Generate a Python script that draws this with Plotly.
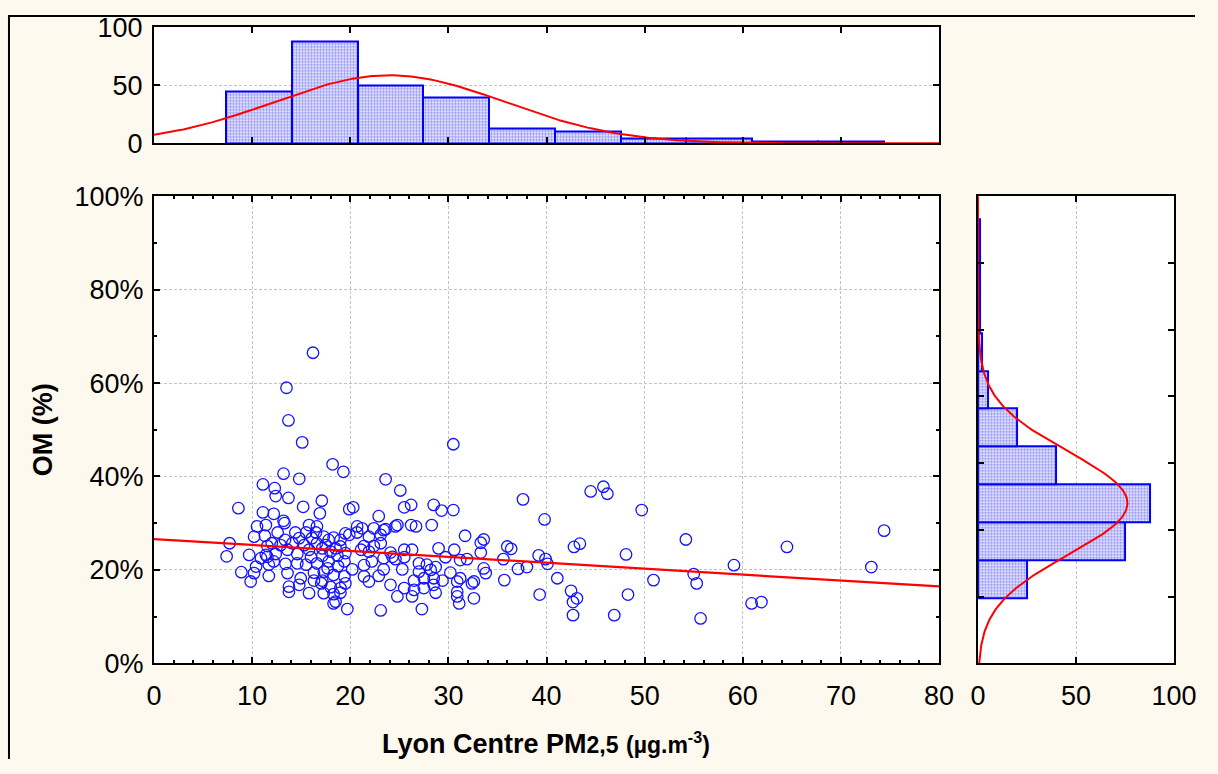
import numpy as np
import plotly.graph_objects as go

# ---------------- data ----------------
pm25 = [
    # dense core (left)
    12.4, 13.7, 17.1, 15.2, 8.6, 11.1, 12.2, 16.9, 19.9, 20.3,
    13.2, 13.3, 10.5, 11.4, 15.8, 16.6, 20.7, 12.6, 14.4, 15.5,
    16.5, 18.3, 19.0, 19.9, 19.5, 10.2, 11.3, 13.35, 12.0, 14.8,
    16.1, 17.3, 17.8, 11.55, 12.9, 14.1, 15.3, 16.6, 17.5, 19.0,
    13.6, 15.8, 17.15, 18.0, 18.5, 9.7, 11.4, 12.4, 14.6, 16.0,
    17.15, 18.7, 19.5, 10.9, 12.2, 13.4, 14.6, 16.6, 17.8, 19.4,
    10.4, 11.55, 11.7, 15.5, 17.7, 18.75, 20.2, 8.9, 10.2, 11.7,
    13.6, 16.3, 17.3, 18.3, 9.85, 14.95, 16.3, 17.15, 19.4, 13.75,
    14.8, 17.05, 18.0, 19.0, 19.5, 13.75, 15.8, 17.3, 18.3, 19.0,
    18.5, 19.7, 18.3,
    # dense core (centre)
    25.5, 26.2, 28.5, 29.3, 30.5, 22.9, 24.8, 24.6, 26.2, 26.7,
    28.3, 21.2, 22.4, 23.4, 23.6, 20.7, 21.9, 23.1, 31.7, 33.3,
    33.6, 21.4, 22.4, 23.1, 21.1, 21.9, 24.1, 25.5, 26.3, 29.0,
    30.6, 33.3, 22.2, 23.4, 24.3, 24.6, 25.5, 29.7, 31.2, 31.9,
    21.4, 23.4, 25.3, 27.0, 27.8, 28.2, 28.7, 27.0, 30.2, 33.6,
    33.8, 21.4, 21.9, 22.9, 26.5, 27.5, 28.5, 29.4, 31.2, 30.9,
    32.4, 32.6, 24.1, 25.5, 26.5, 27.5, 28.5, 28.7, 30.9, 30.9,
    32.6, 24.8, 26.3, 31.1, 23.1, 27.3,
    # high OM and far-left points
    16.2, 13.5, 13.7, 15.1, 18.2, 19.3, 13.2, 14.8, 11.1, 12.3,
    30.5, 23.6, 25.1, 7.7, 7.4,
    # right side
    37.6, 39.8, 44.5, 45.8, 46.2, 49.7, 54.2, 64.5, 74.4, 73.1,
    59.1, 55.0, 55.3, 55.7, 60.9, 61.9, 50.9, 48.1, 48.3, 46.9,
    42.8, 43.4, 41.1, 42.5, 43.1, 42.7, 42.7, 39.3, 39.2, 39.9,
    40.1, 38.0, 37.1, 36.0, 36.4, 35.6, 35.7,
]
om_pct = [
    35.8, 35.4, 34.8, 33.5, 33.2, 32.3, 32.0, 32.1, 33.0, 33.4,
    30.5, 30.0, 29.3, 29.6, 29.6, 29.3, 29.3, 28.0, 28.0, 28.0,
    28.0, 26.9, 26.4, 27.5, 27.8, 27.1, 27.3, 26.4, 25.7, 26.8,
    26.8, 27.1, 26.4, 25.1, 25.3, 25.7, 25.3, 25.7, 25.3, 25.0,
    24.3, 24.3, 24.6, 23.9, 24.6, 23.2, 23.2, 23.4, 23.4, 22.7,
    23.0, 23.0, 23.6, 22.5, 21.8, 21.3, 21.4, 21.4, 21.8, 21.8,
    20.7, 22.8, 21.1, 21.1, 20.3, 20.8, 20.1, 19.5, 19.3, 18.7,
    19.3, 19.4, 19.6, 18.9, 17.5, 18.2, 17.7, 17.7, 18.6, 16.4,
    16.8, 17.1, 16.3, 16.1, 17.1, 15.3, 15.0, 15.0, 14.8, 15.1,
    13.2, 11.6, 12.8,
    33.4, 33.9, 33.9, 32.7, 32.8, 31.5, 29.6, 29.3, 29.6, 29.3,
    29.6, 28.9, 28.9, 28.5, 28.7, 28.0, 27.1, 27.5, 27.3, 25.8,
    26.5, 25.1, 25.1, 25.7, 24.3, 23.9, 23.7, 24.3, 24.3, 24.6,
    24.3, 23.7, 21.8, 22.5, 22.8, 22.3, 22.7, 22.7, 22.1, 22.3,
    21.0, 20.1, 20.1, 21.4, 21.1, 20.0, 20.6, 19.6, 19.4, 20.3,
    19.3, 18.6, 17.5, 18.7, 17.7, 18.2, 18.2, 17.7, 18.2, 17.5,
    17.1, 17.5, 16.8, 16.1, 15.7, 16.1, 16.8, 15.1, 15.3, 14.3,
    13.9, 14.3, 14.3, 12.8, 11.3, 11.6,
    66.5, 59.0, 52.0, 47.3, 42.6, 41.0, 40.6, 39.5, 38.3, 37.5,
    46.9, 39.4, 37.0, 25.7, 22.9,
    35.1, 30.8, 36.8, 37.8, 36.3, 32.8, 26.5, 24.9, 28.4, 20.6,
    21.0, 19.1, 17.1, 9.6, 12.8, 13.1, 17.8, 23.3, 14.7, 10.3,
    24.9, 25.6, 18.2, 15.5, 13.9, 13.1, 10.3, 14.7, 23.1, 22.3,
    21.3, 20.6, 20.2, 25.0, 24.5, 22.3, 17.8,
]

# histogram of PM2.5 (top panel): 10 classes
pm_hist_start = 7.36
pm_bin_width = 6.70
pm_counts = [45, 88, 50, 40, 13, 10, 4, 4, 2, 2]

# histogram of OM (right panel): 10 classes
om_hist_start = 9.74
om_bin_width = 5.68
om_counts = [25, 75, 88, 40, 20, 5, 2, 1, 1, 1]

# fitted normal curves and regression line
n_obs = 259
pm_mean, pm_sd = 24.0, 11.8
om_mean, om_sd = 24.0, 7.7
reg_intercept, reg_slope = 26.6, -0.127

x_ticks = [0, 10, 20, 30, 40, 50, 60, 70, 80]
y_ticks = [0, 20, 40, 60, 80, 100]
y_tick_text = ["0%", "20%", "40%", "60%", "80%", "100%"]
hist_ticks = [0, 50, 100]

# ---------------- figure ----------------
W, H = 1218, 774
# the captured picture is slightly shrunk and shifted; compensate so that
# panels land where they sit in the reference picture
SX, SY = 0.9745, 0.9615
OX, OY = 9.0, 16.6
BLUE = "#1414FF"
RED = "#FF0000"
CREAM = "#FEF9EE"
FONT = "Liberation Sans, Arial, sans-serif"
TICKFONT = dict(family=FONT, size=27, color="black")


def px_x(p):
    return ((p - OX) / SX) / W


def px_y(p):
    return 1 - ((p - OY) / SY) / H


dom_x_main = [px_x(155), px_x(940)]
dom_y_main = [px_y(665), px_y(198)]
dom_y_top = [px_y(145), px_y(29)]
dom_x_right = [px_x(979), px_x(1175)]

fig = go.Figure()

bar_marker = dict(
    color="white",
    pattern=dict(shape=".", fgcolor="#2A2AEE", bgcolor="white", size=3, solidity=0.6),
    line=dict(color="#0000FF", width=2),
)

# top histogram
pm_centers = [pm_hist_start + pm_bin_width * (i + 0.5) for i in range(len(pm_counts))]
fig.add_trace(go.Bar(x=pm_centers, y=pm_counts, width=pm_bin_width, marker=bar_marker,
                     xaxis="x2", yaxis="y2", showlegend=False))
xs = np.linspace(0, 80, 401)
ys = n_obs * pm_bin_width / (pm_sd * np.sqrt(2 * np.pi)) * np.exp(-0.5 * ((xs - pm_mean) / pm_sd) ** 2)
fig.add_trace(go.Scatter(x=xs, y=ys, mode="lines", line=dict(color=RED, width=2),
                         xaxis="x2", yaxis="y2", showlegend=False))

# right histogram
om_centers = [om_hist_start + om_bin_width * (i + 0.5) for i in range(len(om_counts))]
fig.add_trace(go.Bar(y=om_centers, x=om_counts, width=om_bin_width, orientation="h",
                     marker=bar_marker, xaxis="x3", yaxis="y3", showlegend=False))
oy = np.linspace(0, 70, 351)
ox = n_obs * om_bin_width / (om_sd * np.sqrt(2 * np.pi)) * np.exp(-0.5 * ((oy - om_mean) / om_sd) ** 2)
fig.add_trace(go.Scatter(x=ox, y=oy, mode="lines", line=dict(color=RED, width=2),
                         xaxis="x3", yaxis="y3", showlegend=False))

# scatter
fig.add_trace(go.Scatter(x=pm25, y=om_pct, mode="markers",
                         marker=dict(symbol="circle-open", size=11.5, color=BLUE,
                                     line=dict(width=1.3, color=BLUE)),
                         showlegend=False))
reg_x = [0, 80]
reg_y = [reg_intercept + reg_slope * v for v in reg_x]
fig.add_trace(go.Scatter(x=reg_x, y=reg_y, mode="lines", line=dict(color=RED, width=2.2),
                         showlegend=False))

axis_common = dict(showline=True, linecolor="black", linewidth=2, mirror="ticks",
                   ticks="inside", ticklen=6, tickwidth=1.5, tickcolor="black",
                   tickfont=TICKFONT, zeroline=False, fixedrange=True,
                   gridcolor="#C4C4C4", griddash="3px,2px", gridwidth=1)

fig.update_layout(
    width=W, height=H,
    autosize=False,
    margin=dict(l=0, r=0, t=0, b=0),
    paper_bgcolor=CREAM,
    plot_bgcolor="white",
    bargap=0,
    xaxis=dict(domain=dom_x_main, range=[0, 80], tickvals=x_ticks, showgrid=True,
               ticklabelstandoff=7,
               minor=dict(ticks="inside", ticklen=3, dtick=2, tick0=0, showgrid=False, tickcolor="black"),
               anchor="y", **axis_common),
    yaxis=dict(domain=dom_y_main, range=[0, 100], tickvals=y_ticks, ticktext=y_tick_text,
               showgrid=True, ticklabelstandoff=3,
               minor=dict(ticks="inside", ticklen=3, dtick=10, tick0=0, showgrid=False, tickcolor="black"),
               anchor="x", **axis_common),
    xaxis2=dict(domain=dom_x_main, range=[0, 80], tickvals=x_ticks, showticklabels=False,
                showgrid=False, anchor="y2", **axis_common),
    yaxis2=dict(domain=dom_y_top, range=[0, 100], tickvals=hist_ticks, showgrid=True,
                ticklabelstandoff=4, anchor="x2", **axis_common),
    xaxis3=dict(domain=dom_x_right, range=[0, 100], tickvals=hist_ticks, showgrid=True,
                ticklabelstandoff=7, anchor="y3", **axis_common),
    yaxis3=dict(domain=dom_y_main, range=[0, 70], dtick=10, tick0=0, showticklabels=False,
                showgrid=False, anchor="x3", **axis_common),
    annotations=[
        dict(text="<b>OM (%)</b>", x=px_x(44), y=px_y(432), xref="paper", yref="paper",
             textangle=-90, showarrow=False, font=dict(family=FONT, size=27, color="black"),
             xanchor="center", yanchor="middle"),
        dict(text="<b>Lyon Centre PM<span style='font-size:23px'>2,5</span> "
                  "<span style='font-size:23px'>(µg.m<sup>-3</sup>)</span></b>",
             x=px_x(547), y=px_y(745), xref="paper", yref="paper", showarrow=False,
             font=dict(family=FONT, size=27, color="black"), xanchor="center", yanchor="middle"),
    ],
    shapes=[
        dict(type="line", xref="paper", yref="paper", x0=0, x1=1, y0=1 - 1 / H, y1=1 - 1 / H,
             line=dict(color="black", width=2)),
        dict(type="line", xref="paper", yref="paper", x0=1 / W, x1=1 / W, y0=0, y1=1,
             line=dict(color="black", width=2)),
    ],
)

fig.write_html(
    "out.html",
    config={"displayModeBar": False, "responsive": False},
    post_script=("document.documentElement.style.margin='0';"
                 "document.documentElement.style.overflow='hidden';"
                 "document.documentElement.style.background='" + CREAM + "';"
                 "document.body.style.margin='0';"
                 "document.body.style.padding='0';"
                 "document.body.style.overflow='hidden';"
                 "document.body.style.background='" + CREAM + "';"),
)
